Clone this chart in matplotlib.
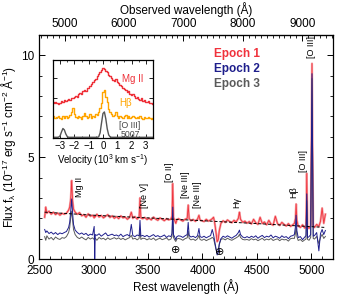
import numpy as np
import matplotlib
matplotlib.use("Agg")
import matplotlib.pyplot as plt
from matplotlib.ticker import MultipleLocator, FixedLocator

plt.rcParams['font.family'] = ['Liberation Sans', 'DejaVu Sans']
plt.rcParams['mathtext.default'] = 'regular'

# ---------------- data ----------------
redshift = 0.83
obs_ticks = [5000, 6000, 7000, 8000, 9000]

wave = [2550, 2560, 2570, 2590, 2610, 2630, 2650, 2670, 2690, 2710, 2730,
        2750, 2770, 2780, 2790, 2798, 2806, 2815, 2830, 2850, 2870, 2890,
        2910, 2930, 2950, 2970, 2990, 3005, 3010, 3015, 3030, 3050, 3070, 3090, 3110, 3130, 3150, 3170, 3190,
        3210, 3230, 3250, 3270, 3290, 3310, 3330, 3346, 3360, 3380, 3400, 3418, 3426, 3434, 3450,
        3470, 3490, 3510, 3530, 3550, 3570, 3590, 3610, 3630, 3650, 3670, 3690, 3710, 3720, 3727, 3734, 3745, 3755, 3765, 3780,
        3800, 3820, 3840, 3860, 3869, 3878, 3895, 3915, 3935, 3955, 3968, 3978, 3995, 4015, 4035, 4055, 4075, 4090, 4102, 4112,
        4125, 4135, 4145, 4155, 4170, 4190, 4210, 4230, 4250, 4270, 4290, 4310, 4330, 4340, 4350, 4370, 4390,
        4410, 4430, 4450, 4470, 4490, 4510, 4530, 4550, 4570, 4590, 4610, 4630, 4650, 4670, 4690, 4710, 4730, 4750, 4770, 4790, 4810, 4830,
        4845, 4855, 4861, 4868, 4880, 4900, 4920, 4940, 4952, 4959, 4966, 4980, 4995, 5007, 5018, 5030, 5050, 5070, 5085, 5100, 5115, 5130]

flux_epoch1 = [2.05, 2.55, 2.25, 2.35, 2.20, 2.30, 2.18, 2.26, 2.15, 2.24, 2.20,
               2.25, 2.40, 2.55, 3.00, 3.85, 2.90, 2.45, 2.30, 2.20, 2.28, 2.12,
               2.18, 2.05, 2.22, 2.10, 2.15, 2.02, 2.12, 2.08, 2.20, 2.06, 2.14, 2.02, 2.10, 2.18, 2.04, 2.12, 2.00,
               2.08, 1.98, 2.12, 2.02, 2.06, 1.95, 2.04, 2.30, 2.00, 2.08, 1.96, 2.05, 3.00, 2.02, 1.98,
               2.04, 1.94, 2.00, 1.92, 2.06, 1.96, 1.90, 2.02, 1.95, 1.88, 1.98, 1.92, 1.96, 2.10, 3.70, 2.05, 1.90, 1.75, 1.92, 1.98,
               1.92, 1.86, 1.95, 2.00, 2.65, 1.98, 1.88, 1.94, 1.85, 1.96, 2.15, 1.92, 1.88, 1.84, 1.95, 1.86, 1.92, 1.98, 2.05, 1.80,
               1.30, 0.85, 0.95, 1.40, 1.75, 1.88, 1.80, 1.92, 1.84, 1.78, 1.90, 1.82, 2.00, 2.30, 1.95, 1.80, 1.86,
               1.76, 1.84, 1.72, 1.95, 1.78, 1.70, 2.05, 1.74, 1.82, 1.68, 1.90, 1.72, 1.66, 2.10, 1.74, 1.65, 1.80, 1.70, 1.62, 1.74, 1.60, 1.68,
               1.75, 2.00, 2.70, 1.90, 1.62, 1.55, 1.68, 1.52, 1.60, 4.20, 1.58, 1.50, 1.65, 9.60, 1.62, 1.55, 1.70, 1.60, 1.85, 2.50, 1.75, 2.20]

flux_epoch2 = [1.45, 1.30, 1.38, 1.25, 1.32, 1.22, 1.30, 1.20, 1.28, 1.24, 1.30,
               1.35, 1.55, 1.80, 2.40, 2.95, 2.30, 1.70, 1.42, 1.30, 1.22, 1.28,
               1.20, 1.26, 1.15, 1.22, 1.18, 1.60, 0.00, 1.20, 1.16, 1.24, 1.12, 1.20, 1.28, 1.14, 1.18, 1.22, 1.15,
               1.18, 1.12, 1.22, 1.10, 1.16, 1.20, 1.12, 1.70, 1.15, 1.10, 1.18, 1.14, 1.90, 1.12, 1.16,
               1.10, 1.16, 1.08, 1.14, 1.20, 1.10, 1.15, 1.08, 1.12, 1.18, 1.06, 1.14, 1.10, 1.25, 2.55, 1.20, 1.08, 0.95, 1.10, 1.14,
               1.12, 1.06, 1.14, 1.20, 1.80, 1.15, 1.08, 1.12, 1.05, 1.14, 1.50, 1.10, 1.06, 1.12, 1.04, 1.10, 1.15, 1.45, 1.20, 0.90,
               0.50, 0.20, 0.30, 0.75, 1.00, 1.12, 1.06, 1.14, 1.08, 1.02, 1.10, 1.16, 1.30, 1.42, 1.20, 1.08, 1.04,
               1.10, 1.04, 1.12, 1.06, 1.14, 1.02, 1.10, 1.16, 1.05, 1.12, 1.08, 1.18, 1.04, 1.12, 1.08, 1.02, 1.14, 1.06, 1.10, 1.00, 1.12, 1.15,
               1.20, 1.60, 2.15, 1.40, 1.05, 1.10, 0.95, 1.08, 1.15, 3.20, 1.05, 1.10, 1.20, 9.10, 1.12, 1.15, 1.30, 0.40, 1.25, 1.45, 1.20, 1.40]

flux_epoch3 = [1.10, 0.92, 1.14, 0.98, 1.06, 0.94, 1.08, 1.00, 0.96, 1.05, 1.02,
               1.10, 1.30, 1.55, 2.05, 2.35, 1.95, 1.45, 1.20, 1.06, 1.00, 1.08,
               1.00, 0.94, 1.06, 0.98, 1.04, 0.96, 1.00, 1.02, 0.92, 1.06, 0.98, 1.02, 0.94, 1.04, 0.96, 1.00, 1.05,
               0.98, 1.04, 0.96, 1.02, 0.94, 1.00, 1.05, 1.16, 0.98, 1.02, 0.94, 1.01, 1.46, 0.96, 1.02,
               1.01, 0.94, 1.00, 0.96, 1.03, 0.92, 0.98, 1.02, 0.95, 0.99, 1.04, 0.93, 0.98, 1.11, 2.06, 1.06, 0.94, 0.86, 0.98, 1.01,
               0.98, 0.92, 1.00, 1.04, 1.36, 1.01, 0.94, 0.98, 0.91, 1.00, 1.16, 0.96, 0.92, 0.98, 0.90, 0.96, 1.00, 1.06, 1.01, 0.76,
               0.46, 0.31, 0.41, 0.71, 0.96, 1.00, 0.94, 1.02, 0.96, 0.92, 0.98, 1.04, 1.11, 1.21, 1.06, 0.96, 0.94,
               0.96, 0.92, 1.00, 0.94, 0.98, 0.90, 0.96, 1.02, 0.92, 0.98, 0.94, 1.01, 0.91, 0.96, 0.99, 0.90, 0.98, 0.94, 0.96, 0.88, 1.00, 1.02,
               1.01, 1.26, 1.66, 1.11, 0.91, 0.96, 0.86, 0.94, 0.98, 2.86, 0.96, 0.92, 1.06, 8.86, 1.01, 0.98, 1.11, 0.76, 1.06, 1.21, 1.01, 1.11]

cont_wave = [2550, 3000, 3500, 4000, 4500, 5130]
cont_flux = [2.30, 2.15, 2.02, 1.88, 1.74, 1.55]

line_labels = ["Mg II", "[Ne V]", "[O II]", "[Ne III]", "[Ne III]", "H\u03b3", "H\u03b2", "[O III]", "[O III]"]
line_label_x = [2868, 3464, 3693, 3843, 3952, 4319, 4841, 4932, 5000]
line_label_y = [3.05, 2.5, 3.8, 3.0, 2.5, 2.5, 3.0, 4.25, 9.85]

telluric_x = [3750, 4160]
telluric_y = [0.45, 0.35]

epoch_names = ["Epoch 1", "Epoch 2", "Epoch 3"]
epoch_colors = ["#f0323c", "#1e1e8c", "#5a5a5a"]

# inset: velocity profiles (10^3 km/s)
vel = np.round(np.arange(-3.5, 3.5001, 0.1), 2)
mgii_profile = [1.80, 1.76, 1.82, 1.74, 1.70, 1.75, 1.86, 1.80, 1.92, 1.84, 1.90, 1.96, 1.88, 2.02, 1.98,
                2.06, 2.10, 2.04, 2.18, 2.26, 2.20, 2.34, 2.42, 2.36, 2.52, 2.48, 2.62, 2.70, 2.78, 2.90,
                2.96, 3.10, 3.20, 3.28, 3.38, 3.50, 3.46, 3.36, 3.30, 3.14, 3.10, 3.00, 2.92, 2.86, 2.94,
                2.82, 2.74, 2.66, 2.60, 2.52, 2.46, 2.38, 2.30, 2.34, 2.22, 2.16, 2.20, 2.08, 2.02, 2.06,
                1.96, 1.92, 1.98, 1.86, 1.90, 1.82, 1.78, 1.84, 1.74, 1.76, 1.70]
hb_profile = [1.10, 1.02, 0.98, 1.05, 1.12, 1.00, 0.95, 1.08, 1.02, 1.10, 0.98, 1.04, 1.15, 1.30, 1.48,
              1.20, 1.05, 0.98, 1.12, 1.04, 0.96, 1.10, 1.25, 1.08, 1.00, 1.06, 1.18, 1.02, 1.12, 1.06,
              1.20, 1.14, 1.32, 1.52, 1.75, 2.30, 2.40, 2.05, 1.80, 1.45, 1.28, 1.20, 1.08, 1.16, 1.30,
              1.12, 1.02, 1.10, 1.05, 0.98, 1.08, 1.14, 1.02, 1.10, 1.00, 1.06, 1.12, 1.04, 0.98, 1.05,
              1.00, 1.08, 1.02, 0.96, 1.04, 1.00, 0.98, 1.06, 1.02, 0.96, 1.00]
oiii_profile = [0.03, 0.03, 0.03, 0.03, 0.04, 0.10, 0.30, 0.47, 0.40, 0.20, 0.07, 0.03, 0.03, 0.03, 0.03,
                0.03, 0.03, 0.03, 0.03, 0.03, 0.03, 0.03, 0.03, 0.03, 0.03, 0.03, 0.03, 0.03, 0.03, 0.03,
                0.03, 0.03, 0.05, 0.25, 0.75, 1.22, 1.30, 0.95, 0.45, 0.15, 0.05, 0.03, 0.03, 0.03, 0.03,
                0.03, 0.03, 0.03, 0.03, 0.03, 0.03, 0.03, 0.03, 0.03, 0.03, 0.03, 0.03, 0.03, 0.03, 0.03,
                0.03, 0.03, 0.03, 0.03, 0.03, 0.03, 0.03, 0.03, 0.03, 0.03, 0.03]

# ---------------- figure ----------------
fig = plt.figure(figsize=(3.6, 2.94), dpi=100)
ax = fig.add_axes([0.109, 0.119, 0.816, 0.762])

ax.plot(wave, flux_epoch1, color='#f6a0a4', lw=1.6, zorder=1)
ax.plot(wave, flux_epoch1, color=epoch_colors[0], lw=0.6, zorder=2)
ax.plot(wave, flux_epoch3, color=epoch_colors[2], lw=0.7, zorder=3)
ax.plot(wave, flux_epoch2, color=epoch_colors[1], lw=0.7, zorder=4)
ax.plot(cont_wave, cont_flux, color='black', lw=0.7, ls=(0, (3, 2)), zorder=5)

ax.set_xlim(2500, 5200)
ax.set_ylim(0, 11)
ax.xaxis.set_major_locator(MultipleLocator(500))
ax.xaxis.set_minor_locator(MultipleLocator(100))
ax.yaxis.set_major_locator(MultipleLocator(5))
ax.yaxis.set_minor_locator(MultipleLocator(1))
ax.tick_params(which='both', direction='in', right=True, top=False, labelsize=8.5)
ax.tick_params(axis='x', pad=4.5)
ax.tick_params(which='major', length=4, width=0.7)
ax.tick_params(which='minor', length=2, width=0.6)
for s in ax.spines.values():
    s.set_linewidth(0.9)

ax.set_xlabel("Rest wavelength (\u00c5)", fontsize=8.5, labelpad=1)
ax.set_ylabel("Flux f$_\\lambda$ (10$^{-17}$ erg s$^{-1}$ cm$^{-2}$ \u00c5$^{-1}$)", fontsize=8.5, labelpad=2)

top = ax.secondary_xaxis('top', functions=(lambda x: x * (1 + redshift), lambda x: x / (1 + redshift)))
top.xaxis.set_major_locator(FixedLocator(obs_ticks))
top.xaxis.set_minor_locator(MultipleLocator(100))
top.tick_params(which='both', direction='in', labelsize=8.5)
top.tick_params(which='major', length=4, width=0.7)
top.tick_params(which='minor', length=2, width=0.6)
top.set_xlabel("Observed wavelength (\u00c5)", fontsize=8.5, labelpad=3)

for lab, lx, ly in zip(line_labels, line_label_x, line_label_y):
    ax.text(lx, ly, lab, rotation=90, ha='center', va='bottom', fontsize=6.5, zorder=6)
for tx, ty in zip(telluric_x, telluric_y):
    ax.text(tx, ty, "\u2295", ha='center', va='center', fontsize=8, family=['DejaVu Sans'], zorder=6)

for i, (name, col) in enumerate(zip(epoch_names, epoch_colors)):
    ax.text(0.75, 0.915 - i * 0.067, name, transform=ax.transAxes, ha='right', va='center',
            fontsize=8.5, fontweight='bold', color=col)

# ---------------- inset ----------------
ins = fig.add_axes([0.147, 0.531, 0.278, 0.265])
ins.plot(vel, mgii_profile, color='#ee3038', lw=1.0, drawstyle='steps-mid')
ins.plot(vel, hb_profile, color='#ffa500', lw=1.0, drawstyle='steps-mid')
ins.plot(vel, oiii_profile, color='#555555', lw=1.0)
ins.set_xlim(-3.5, 3.5)
ins.set_ylim(0, 3.9)
ins.xaxis.set_major_locator(MultipleLocator(1))
ins.xaxis.set_minor_locator(MultipleLocator(0.5))
ins.yaxis.set_major_locator(MultipleLocator(1))
ins.yaxis.set_major_formatter(plt.NullFormatter())
ins.tick_params(which='both', direction='in', top=True, right=True, labelsize=7, pad=2)
ins.tick_params(which='major', length=3, width=0.6)
ins.tick_params(which='minor', length=1.5, width=0.5)
for s in ins.spines.values():
    s.set_linewidth(0.9)
ins.set_xlabel("Velocity (10$^3$ km s$^{-1}$)", fontsize=7, labelpad=1)
ins.text(2.8, 2.95, "Mg II", color='#ee3038', fontsize=7, ha='right', va='center')
ins.text(1.6, 1.75, "H\u03b2", color='#ffa500', fontsize=7, ha='center', va='center')
ins.text(2.6, 0.40, "[O III]", color='#444444', fontsize=6.3, ha='right', va='bottom')
ins.text(2.6, 0.38, "5007", color='#444444', fontsize=6.3, ha='right', va='top')

fig.savefig("out.png", dpi=100)
